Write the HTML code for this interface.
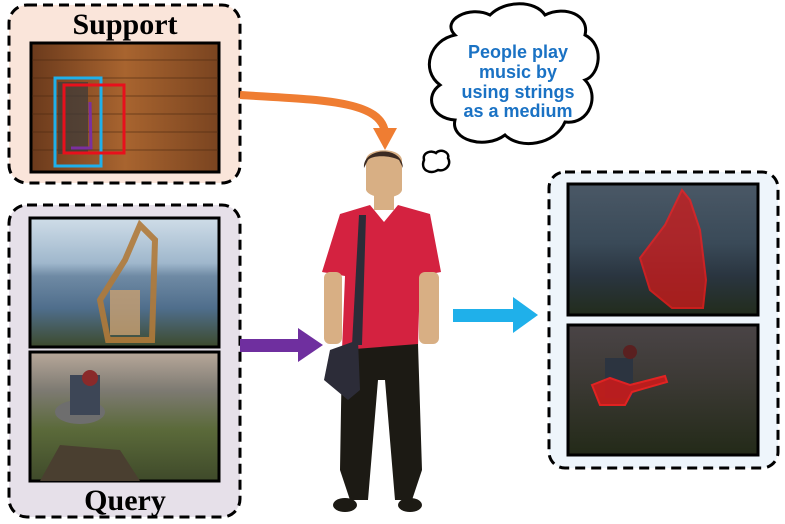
<!DOCTYPE html>
<html><head><style>body{margin:0;background:#fff}svg{display:block}</style></head><body>
<svg width="785" height="524" viewBox="0 0 785 524" xmlns="http://www.w3.org/2000/svg">
<defs>
<linearGradient id="wood" x1="0" y1="0" x2="1" y2="0"><stop offset="0" stop-color="#6b3a1c"/><stop offset="0.5" stop-color="#a8642f"/><stop offset="1" stop-color="#7a4420"/></linearGradient>
<linearGradient id="lake" x1="0" y1="0" x2="0" y2="1"><stop offset="0" stop-color="#cfdde8"/><stop offset="0.35" stop-color="#9fb7cc"/><stop offset="0.45" stop-color="#6f8aa4"/><stop offset="0.7" stop-color="#4f6e8c"/><stop offset="1" stop-color="#3d4a2c"/></linearGradient>
<linearGradient id="hill" x1="0" y1="0" x2="0" y2="1"><stop offset="0" stop-color="#b8a89a"/><stop offset="0.3" stop-color="#7d7a72"/><stop offset="0.6" stop-color="#5b6a3a"/><stop offset="1" stop-color="#3f4a2a"/></linearGradient>
<linearGradient id="lake2" x1="0" y1="0" x2="0" y2="1"><stop offset="0" stop-color="#4a5866"/><stop offset="0.45" stop-color="#3a4a58"/><stop offset="0.7" stop-color="#2a3540"/><stop offset="1" stop-color="#222c1c"/></linearGradient>
<linearGradient id="hill2" x1="0" y1="0" x2="0" y2="1"><stop offset="0" stop-color="#4a4446"/><stop offset="0.4" stop-color="#3d3a36"/><stop offset="1" stop-color="#232a18"/></linearGradient>
</defs>
<rect x="9" y="5" width="231" height="178" rx="18" fill="#fae5da" stroke="#000" stroke-width="3" stroke-dasharray="10 6"/>
<text x="125" y="34" text-anchor="middle" font-family="Liberation Serif, serif" font-weight="bold" font-size="30">Support</text>
<rect x="31" y="43" width="188" height="129" fill="url(#wood)" stroke="#000" stroke-width="3"/>
<g stroke="#4a2810" stroke-width="1" opacity="0.6"><line x1="32" y1="60" x2="218" y2="60"/><line x1="32" y1="78" x2="218" y2="78"/><line x1="32" y1="96" x2="218" y2="96"/><line x1="32" y1="114" x2="218" y2="114"/><line x1="32" y1="132" x2="218" y2="132"/><line x1="32" y1="150" x2="218" y2="150"/></g>
<rect x="58" y="82" width="30" height="72" fill="#3a3a3a" opacity="0.7"/>
<rect x="55" y="78" width="46" height="88" fill="none" stroke="#1fb0ea" stroke-width="3"/>
<rect x="64" y="85" width="60" height="68" fill="none" stroke="#e8101c" stroke-width="3"/>
<polyline points="71,148 91,148 90,102" fill="none" stroke="#7b2fa0" stroke-width="3"/>
<rect x="9" y="205" width="231" height="312" rx="18" fill="#e6e0e9" stroke="#000" stroke-width="3" stroke-dasharray="10 6"/>
<rect x="30" y="218" width="189" height="129" fill="url(#lake)" stroke="#000" stroke-width="3"/>
<path d="M140 225 L155 240 L152 340 L108 340 L100 300 L125 260 Z" fill="none" stroke="#b07a3a" stroke-width="6" opacity="0.9"/>
<rect x="110" y="290" width="30" height="45" fill="#c9a070" opacity="0.8"/>
<rect x="30" y="352" width="189" height="129" fill="url(#hill)" stroke="#000" stroke-width="3"/>
<ellipse cx="80" cy="412" rx="25" ry="12" fill="#6e6e6e"/><rect x="70" y="375" width="30" height="40" fill="#3d4656"/><circle cx="90" cy="378" r="8" fill="#8a2a2a"/>
<path d="M40 481 L60 445 L120 450 L140 481 Z" fill="#4a3f30"/>
<text x="125" y="510" text-anchor="middle" font-family="Liberation Serif, serif" font-weight="bold" font-size="30">Query</text>
<rect x="549" y="172" width="229" height="296" rx="16" fill="#eef5fb" stroke="#000" stroke-width="3" stroke-dasharray="10 6"/>
<rect x="568" y="184" width="190" height="131" fill="url(#lake2)" stroke="#000" stroke-width="3"/>
<path d="M682 190 L690 200 L700 230 L706 280 L703 308 L672 308 L650 290 L640 258 L665 225 Z" fill="#d11a1a" opacity="0.75" stroke="#ff1a1a" stroke-width="2"/>
<rect x="568" y="325" width="190" height="130" fill="url(#hill2)" stroke="#000" stroke-width="3"/>
<rect x="605" y="358" width="28" height="40" fill="#2c3440"/><circle cx="630" cy="352" r="7" fill="#5a2020"/>
<path d="M592 385 L610 378 L630 385 L665 376 L667 382 L632 392 L625 405 L600 405 Z" fill="#d11a1a" opacity="0.85" stroke="#ff2020" stroke-width="2"/>
<path d="M240 95 C320 100 380 100 385 132" fill="none" stroke="#ef7d32" stroke-width="8"/>
<polygon points="373,128 397,128 385,150" fill="#ef7d32"/>
<rect x="240" y="339" width="60" height="13" fill="#6f2f9f"/>
<polygon points="298,328 323,345 298,362" fill="#6f2f9f"/>
<rect x="453" y="309" width="62" height="13" fill="#1fb0ea"/>
<polygon points="513,297 538,315 513,333" fill="#1fb0ea"/>
<path d="M455 35 C440 20 470 5 490 15 C505 0 535 0 545 15 C565 5 590 15 585 35 C605 45 600 75 585 80 C600 95 590 125 565 122 C555 145 520 150 505 135 C485 150 450 140 455 120 C430 118 425 95 440 85 C420 70 430 40 455 35 Z" fill="#fff" stroke="#000" stroke-width="3"/>
<g font-family="Liberation Sans, sans-serif" font-weight="bold" font-size="18" fill="#1a72c4" text-anchor="middle">
<text x="518" y="58">People play</text><text x="518" y="78">music by</text><text x="518" y="98">using strings</text><text x="518" y="117">as a medium</text></g>
<path d="M424 160 C422 152 432 150 436 153 C440 148 450 152 448 158 C452 165 445 172 438 170 C430 175 420 170 424 160 Z" fill="#fff" stroke="#000" stroke-width="2.5"/>
<path d="M366 160 C366 148 400 146 402 160 L402 190 C400 200 370 200 366 190 Z" fill="#d8af84"/>
<path d="M364 168 C362 148 402 144 403 168 L399 160 C390 155 372 155 368 160 Z" fill="#3b2a22"/>
<rect x="374" y="196" width="20" height="14" fill="#d8af84"/>
<path d="M340 214 L370 205 L384 222 L398 205 L430 214 L441 272 L420 276 L418 346 L382 354 L342 350 L345 276 L322 272 Z" fill="#d42240"/>
<rect x="324" y="272" width="18" height="72" rx="6" fill="#d8af84"/><rect x="419" y="272" width="20" height="72" rx="6" fill="#d8af84"/>
<path d="M342 350 L418 344 L422 470 L412 500 L395 500 L385 380 L378 380 L368 500 L350 500 L340 470 Z" fill="#1c1a14"/>
<ellipse cx="345" cy="505" rx="12" ry="7" fill="#1c1a14"/><ellipse cx="410" cy="505" rx="12" ry="7" fill="#1c1a14"/>
<path d="M359 215 L366 215 L362 345 L352 345 Z" fill="#2c2c38"/>
<path d="M330 350 L358 340 L360 390 L348 400 L324 380 Z" fill="#2c2c38"/>
</svg>
</body></html>
